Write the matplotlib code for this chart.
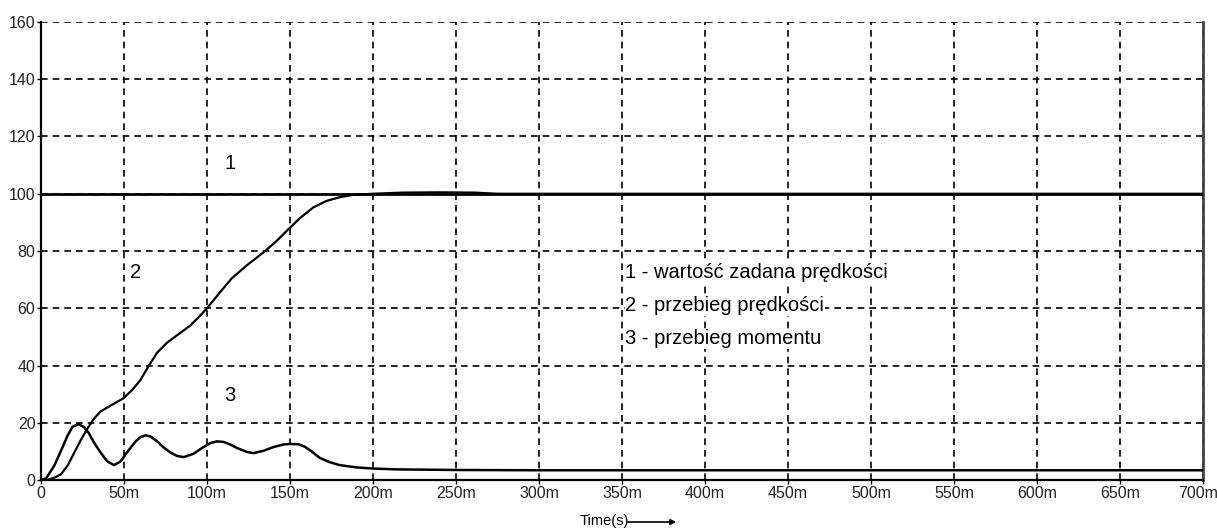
import matplotlib
matplotlib.use("Agg")
import matplotlib.pyplot as plt
import matplotlib.transforms as mtransforms

# ---- data (time in ms) ----
t_set = [0, 700]
v_set = [100, 100]

t_speed = [0, 3.5, 8, 12, 16, 20, 24, 28, 32, 36, 42, 49.5, 55, 60, 65, 70, 76, 83, 90,
           96, 100, 107, 115, 124, 134, 141, 148, 156, 164, 172, 180, 188, 200, 218,
           240, 261, 275, 700]
v_speed = [0, 0, 0.8, 2, 5, 9.5, 14, 18, 21.5, 24, 26, 28.5, 31.5, 35, 40, 44.5, 48, 51, 54,
           57.5, 60, 65, 70.5, 75, 79.5, 83, 87, 91.5, 95.2, 97.5, 98.8, 99.6, 100, 100.4,
           100.5, 100.4, 100, 100]

t_torque = [0, 3, 8, 13, 16, 19, 22.5, 26, 29, 32, 36, 40, 44, 48, 52, 57, 60, 63, 66, 70,
            74, 78, 82, 86, 92, 97, 102, 106, 110, 114, 118, 124, 128, 134, 140, 146, 150,
            155, 159, 163, 168, 174, 180, 190, 200, 215, 250, 300, 700]
v_torque = [0, 0.5, 5, 11.5, 15.5, 18.6, 19.5, 18.5, 16.2, 13, 9.5, 6.5, 5.2, 6.5, 9.8, 13.5,
            15, 15.6, 15.2, 13.5, 11.3, 9.6, 8.4, 8.0, 9.2, 11.2, 12.9, 13.5, 13.3, 12.4,
            11.2, 9.8, 9.4, 10.2, 11.5, 12.4, 12.6, 12.5, 11.6, 10.0, 7.7, 6.2, 5.2, 4.4,
            4.0, 3.7, 3.5, 3.4, 3.4]

x_ticks = [0, 50, 100, 150, 200, 250, 300, 350, 400, 450, 500, 550, 600, 650, 700]
x_labels = ["0"] + [f"{v}m" for v in x_ticks[1:]]
y_ticks = [0, 20, 40, 60, 80, 100, 120, 140, 160]

legend_lines = ["1 - wartość zadana prędkości",
                "2 - przebieg prędkości",
                "3 - przebieg momentu"]

plt.rcParams['font.family'] = ['Liberation Sans', 'DejaVu Sans']

W, H = 1217, 532
fig = plt.figure(figsize=(W / 100, H / 100), dpi=100)
ax = fig.add_axes([41 / W, (H - 480) / H, (1203 - 41) / W, (480 - 22) / H])

ax.set_xlim(0, 700)
ax.set_ylim(0, 160)

ax.plot(t_set, v_set, color="black", lw=2.0, zorder=3)
ax.plot(t_speed, v_speed, color="black", lw=1.6, zorder=3)
ax.plot(t_torque, v_torque, color="black", lw=1.8, zorder=3)

ax.set_xticks(x_ticks)
ax.set_xticklabels(x_labels)
ax.set_yticks(y_ticks)
ax.tick_params(axis="both", direction="out", length=3, width=1, labelsize=11.5, pad=1,
               colors="black")
for lab in ax.get_xticklabels() + ax.get_yticklabels():
    lab.set_color("#222222")
# keep the last x label inside the canvas
last = ax.get_xticklabels()[-1]
last.set_transform(last.get_transform() +
                   mtransforms.ScaledTranslation(-5 / 100, 0, fig.dpi_scale_trans))

ax.grid(True, color="black", linestyle=(0, (4, 3)), linewidth=1.2)
ax.set_axisbelow(True)

ax.spines["top"].set_visible(False)
ax.spines["left"].set_linewidth(1.6)
ax.spines["bottom"].set_linewidth(1.6)
ax.spines["right"].set_color("#444444")
ax.spines["right"].set_linewidth(2.0)

# curve labels
ax.text(114, 110.5, "1", fontsize=14.5, ha="center", va="center")
ax.text(57, 72.5, "2", fontsize=14.5, ha="center", va="center")
ax.text(114, 29.5, "3", fontsize=14.5, ha="center", va="center")

# legend text
for i, s in enumerate(legend_lines):
    ax.text(352, 72.5 - i * 11.6, s, fontsize=14.5, ha="left", va="center",
            bbox=dict(facecolor="white", edgecolor="none", pad=0.5))

# x axis label with arrow
fig.text(580 / W, 1 - 521 / H, "Time(s)", fontsize=10.5, ha="left", va="center")
fig.add_artist(matplotlib.patches.FancyArrowPatch(
    (625 / W, 1 - 522 / H), (679 / W, 1 - 522 / H), transform=fig.transFigure,
    arrowstyle="-|>", mutation_scale=8, color="black", lw=1.2))

fig.savefig("out.png", dpi=100, facecolor="white")
